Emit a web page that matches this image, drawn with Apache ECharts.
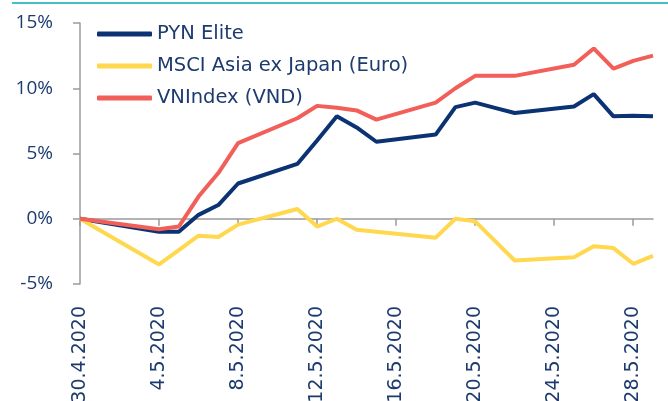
<!DOCTYPE html>
<html>
<head>
<meta charset="utf-8">
<script src="https://cdn.jsdelivr.net/npm/echarts@6/dist/echarts.min.js"></script>
<style>
  html, body { margin: 0; padding: 0; background: #fff; }
  #chart { width: 668px; height: 401px; }
</style>
</head>
<body>
<div id="chart"></div>
<script>
// calendar days on the x axis (trading days carry values, the rest are null)
const days = [
  '30.4.2020', '1.5.2020', '2.5.2020', '3.5.2020', '4.5.2020', '5.5.2020', '6.5.2020', '7.5.2020',
  '8.5.2020', '9.5.2020', '10.5.2020', '11.5.2020', '12.5.2020', '13.5.2020', '14.5.2020',
  '15.5.2020', '16.5.2020', '17.5.2020', '18.5.2020', '19.5.2020', '20.5.2020', '21.5.2020',
  '22.5.2020', '23.5.2020', '24.5.2020', '25.5.2020', '26.5.2020', '27.5.2020', '28.5.2020',
  '29.5.2020'
]

const pynElite = [
  0, null, null, null, -1.0, -1.0, 0.3, 1.05, 2.7, null, null, 4.2, 6.0, 7.85, 7.0,
  5.9, null, null, 6.45, 8.55, 8.9, 8.5, 8.1, null, null, 8.6, 9.55, 7.85, 7.9, 7.85
]
const msciAsia = [
  0, null, null, null, -3.5, -2.4, -1.3, -1.4, -0.45, null, null, 0.75, -0.6, 0.0, -0.85,
  -1.0, null, null, -1.45, 0.0, -0.2, -1.7, -3.2, null, null, -2.95, -2.1, -2.25, -3.45, -2.85
]
const vnIndex = [
  0, null, null, null, -0.8, -0.6, 1.7, 3.5, 5.8, null, null, 7.7, 8.65, 8.5, 8.3,
  7.6, null, null, 8.9, 10.0, 10.95, 10.95, 10.95, null, null, 11.8, 13.05, 11.5, 12.1, 12.5
]

const textColor = '#1d3b6f'
const axisGray = '#9a9a9a'

const chart = echarts.init(document.getElementById('chart'))

const line = (name, data, color) => ({
  name,
  type: 'line',
  data,
  connectNulls: true,
  showSymbol: false,
  symbol: 'none',
  xAxisIndex: 0,
  lineStyle: { color, width: 4 },
  itemStyle: { color }
})

const option = {
  backgroundColor: '#fff',
  animation: false,
  graphic: [
    {
      type: 'line',
      shape: { x1: 12, y1: 3, x2: 668, y2: 3 },
      style: { stroke: '#45bfc2', lineWidth: 2 }
    }
  ],
  legend: {
    orient: 'vertical',
    left: 97,
    top: 24,
    padding: 0,
    itemWidth: 55,
    itemHeight: 5,
    itemGap: 12,
    icon: 'roundRect',
    textStyle: { color: textColor, fontFamily: 'DejaVu Sans', fontSize: 19.5, lineHeight: 20 }
  },
  grid: { left: 80, right: 15, top: 23, bottom: 117, outerBoundsMode: 'none' },
  xAxis: [
    {
      type: 'category',
      data: days,
      boundaryGap: false,
      axisLine: { onZero: true, lineStyle: { color: axisGray, width: 1.5 } },
      axisTick: { interval: 3, length: 7, lineStyle: { color: axisGray, width: 1.5 } },
      axisLabel: { show: false }
    },
    {
      type: 'category',
      data: days,
      position: 'bottom',
      boundaryGap: false,
      axisLine: { show: false, onZero: false },
      axisTick: { show: false },
      axisLabel: {
        interval: 3,
        rotate: 90,
        margin: 22,
        color: textColor,
        fontFamily: 'DejaVu Sans',
        fontSize: 19
      }
    }
  ],
  yAxis: {
    type: 'value',
    min: -5,
    max: 15,
    interval: 5,
    splitLine: { show: false },
    axisLine: { show: true, lineStyle: { color: axisGray, width: 1.5 } },
    axisTick: { show: true, length: 7, lineStyle: { color: axisGray, width: 1.5 } },
    axisLabel: {
      formatter: '{value}%',
      margin: 27,
      color: textColor,
      fontFamily: 'Open Sans',
      fontSize: 19
    }
  },
  series: [
    line('PYN Elite', pynElite, '#0b3272'),
    line('MSCI Asia ex Japan (Euro)', msciAsia, '#ffd84f'),
    line('VNIndex (VND)', vnIndex, '#f15f58')
  ]
}

chart.setOption(option)
</script>
</body>
</html>
